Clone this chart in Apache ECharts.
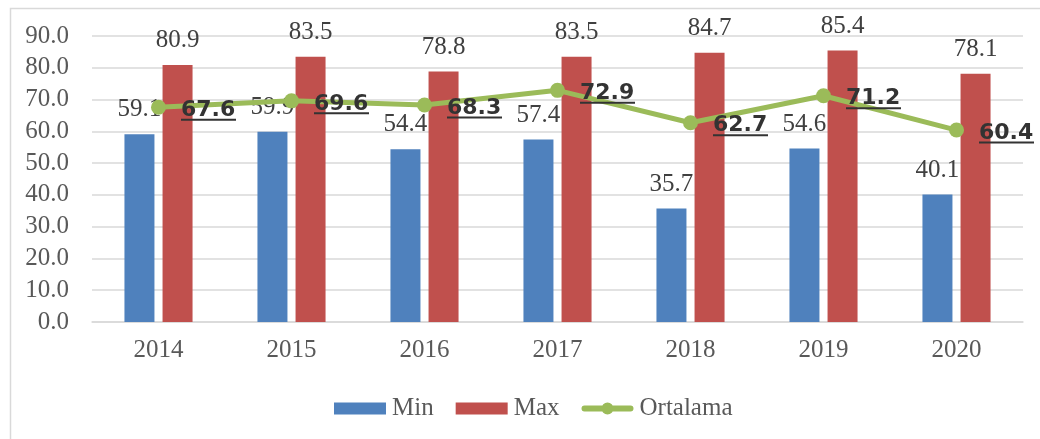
<!DOCTYPE html>
<html>
<head>
<meta charset="utf-8">
<script src="https://cdn.jsdelivr.net/npm/echarts@6/dist/echarts.min.js"></script>
<style>html,body{margin:0;padding:0;background:#fff}#c{width:1040px;height:439px}</style>
</head>
<body>
<div id="c"></div>
<script>
const years = ['2014','2015','2016','2017','2018','2019','2020'];
const minVals = [59.1, 59.9, 54.4, 57.4, 35.7, 54.6, 40.1];
const maxVals = [80.9, 83.5, 78.8, 83.5, 84.7, 85.4, 78.1];
const avgVals = [67.6, 69.6, 68.3, 72.9, 62.7, 71.2, 60.4];
const yTicks = {min: 0, max: 90, interval: 10};

const serif = 'Liberation Serif';
const fs = 25;
const lineIcon = 'path://M3,3L49,3A3,3 0 0 1 49,9L3,9A3,3 0 0 1 3,3Z M32,6A6,6 0 1 1 20,6A6,6 0 1 1 32,6Z';
const chart = echarts.init(document.getElementById('c'));
chart.setOption({
  animation: false,
  backgroundColor: '#fff',
  graphic: [{
    type: 'rect', left: 8, top: 6, shape: {width: 1200, height: 600},
    style: {fill: 'none', stroke: '#d9d9d9', lineWidth: 1.5}, silent: true, z: -10
  }],
  grid: {left: 92, right: 17, top: 36, bottom: 117},
  legend: {
    left: 329, top: 391,
    itemWidth: 52, itemHeight: 12, itemGap: 22,
    textStyle: {fontFamily: serif, fontSize: fs, color: '#595959', padding: [0,0,0,1]},
    data: [
      {name: 'Min', icon: 'rect'},
      {name: 'Max', icon: 'rect'},
      {name: 'Ortalama', icon: lineIcon, itemStyle: {color: '#9BBB59'}}
    ]
  },
  xAxis: {
    type: 'category', data: years,
    axisLine: {lineStyle: {color: '#d9d9d9', width: 1.5}},
    axisTick: {show: false},
    axisLabel: {fontFamily: serif, fontSize: fs, color: '#595959', margin: 16}
  },
  yAxis: {
    type: 'value', min: yTicks.min, max: yTicks.max, interval: yTicks.interval,
    axisLine: {show: false}, axisTick: {show: false},
    splitLine: {lineStyle: {color: '#d9d9d9', width: 1.5}},
    axisLabel: {fontFamily: serif, fontSize: fs, color: '#595959', margin: 23,
      formatter: v => v.toFixed(1)}
  },
  series: [
    {
      name: 'Min', type: 'bar', data: minVals, barWidth: 30, barGap: '27%',
      itemStyle: {color: '#4F81BD'},
      label: {show: true, position: 'top', distance: 12, fontFamily: serif, fontSize: fs,
        color: '#404040', formatter: p => p.value.toFixed(1)}
    },
    {
      name: 'Max', type: 'bar', data: maxVals, barWidth: 30,
      itemStyle: {color: '#C0504D'},
      label: {show: true, position: 'top', distance: 12, fontFamily: serif, fontSize: fs,
        color: '#404040', formatter: p => p.value.toFixed(1)}
    },
    {
      name: 'Ortalama', type: 'line', data: avgVals, z: 5,
      symbol: 'circle', symbolSize: 15,
      lineStyle: {color: '#9BBB59', width: 5},
      itemStyle: {color: '#9BBB59'},
      label: {
        show: true, position: 'right', distance: 15, offset: [0, 4],
        formatter: p => '{v|' + p.value.toFixed(1) + '}\n{u|}',
        rich: {
          v: {fontFamily: 'DejaVu Sans', fontWeight: 'bold', fontSize: 22, color: '#333333', lineHeight: 17},
          u: {backgroundColor: '#333333', width: 55, height: 2, lineHeight: 2}
        }
      }
    }
  ]
});
</script>
</body>
</html>
